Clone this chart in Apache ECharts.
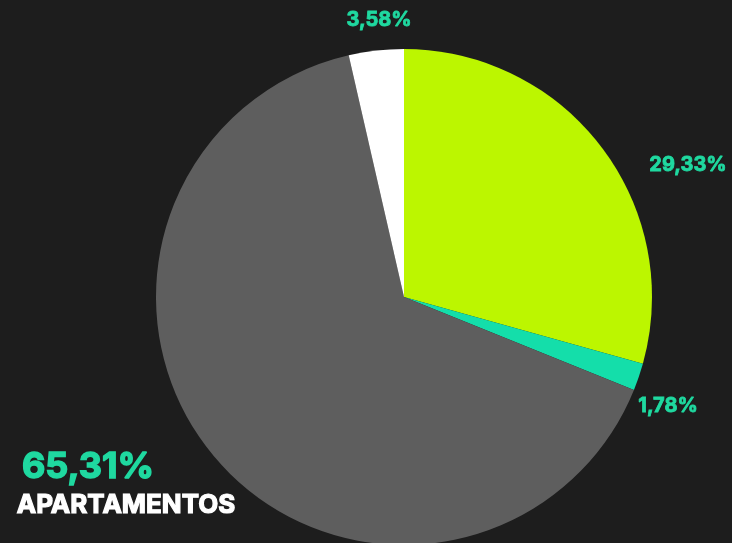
<!DOCTYPE html>
<html>
<head>
<meta charset="utf-8">
<script src="https://cdn.jsdelivr.net/npm/echarts@6/dist/echarts.min.js"></script>
<style>
  html, body { margin: 0; padding: 0; background: #1d1d1d; }
  #chart { width: 732px; height: 543px; }
</style>
</head>
<body>
<div id="chart"></div>
<script>
// fatias, no sentido horário a partir do topo
const categories = ["Salas", "Lojas", "Apartamentos", "Outros"];
const values = [29.33, 1.78, 65.31, 3.58];
const colors = ["#bcf600", "#14deaa", "#5e5e5e", "#ffffff"];

const fmt = (v) => v.toFixed(2).replace(".", ",") + "%";
const green = "#1fd9a0";
const font = "Inter";

// texto "gordo": traço da mesma cor para engrossar
function label(x, y, text, size, color, lw) {
  return {
    type: "text", x: x, y: y,
    style: {
      text: text, fill: color, stroke: color, lineWidth: lw,
      font: "bold " + size + "px " + font, align: "center", verticalAlign: "middle",
    },
  };
}

const chart = echarts.init(document.getElementById("chart"));

chart.setOption({
  backgroundColor: "#1d1d1d",
  animation: false,
  series: [
    {
      type: "pie",
      center: [404, 297],
      radius: 248,
      startAngle: 90,
      clockwise: true,
      label: { show: false },
      labelLine: { show: false },
      itemStyle: { borderWidth: 0 },
      data: categories.map((name, i) => ({
        name: name,
        value: values[i],
        itemStyle: { color: colors[i] },
      })),
    },
  ],
  graphic: [
    label(379, 20, fmt(values[3]), 20, green, 0.8),
    label(688, 165, fmt(values[0]), 20, green, 0.8),
    label(668, 406, fmt(values[1]), 20, green, 0.8),
    label(88, 467, fmt(values[2]), 36, green, 1.5),
    label(126, 505, categories[2].toUpperCase(), 26, "#ffffff", 1.2),
  ],
});
</script>
</body>
</html>
